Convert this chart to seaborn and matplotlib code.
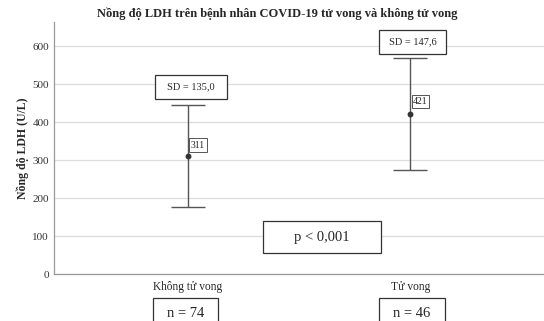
import matplotlib
matplotlib.use("Agg")
import matplotlib.pyplot as plt
from matplotlib.patches import Rectangle
import seaborn as sns
import pandas as pd

groups = ["Không tử vong", "Tử vong"]
means = [311, 421]
sds = [135.0, 147.6]
ns = [74, 46]
sd_labels = ["SD = 135,0", "SD = 147,6"]
p_label = "p < 0,001"
yticks = [0, 100, 200, 300, 400, 500, 600]

sns.set_theme(style="whitegrid")
plt.rcParams['font.family'] = ['Liberation Serif', 'DejaVu Serif']

df = pd.DataFrame({"group": groups, "mean": means, "sd": sds})

fig = plt.figure(figsize=(5.44, 3.21), dpi=100)
ax = fig.add_axes([0.099, 0.146, 0.901, 0.785])

ax.errorbar(x=[0, 1], y=df["mean"], yerr=df["sd"], fmt="none", ecolor="#555555",
            elinewidth=1.0, capsize=12, capthick=1.0, zorder=2)
sns.pointplot(data=df, x="group", y="mean", errorbar=None, color="#333333",
              markers="o", linestyles="none", ax=ax, markersize=2.2)

ax.set_xlim(-0.6, 1.6)
ax.set_ylim(0, 663)
ax.set_yticks(yticks)
ax.set_yticklabels([str(t) for t in yticks], fontsize=8, color="#333333")
ax.tick_params(axis="y", length=0, pad=3.5)
ax.tick_params(axis="x", length=0, pad=5, labelsize=8.3)
ax.grid(axis="y", color="#dddddd", linewidth=0.9)
ax.grid(axis="x", visible=False)
for s in ["top", "right"]:
    ax.spines[s].set_visible(False)
ax.spines["left"].set_color("#999999")
ax.spines["bottom"].set_color("#999999")
ax.spines["left"].set_linewidth(0.9)
ax.spines["bottom"].set_linewidth(0.9)
ax.set_xlabel("")
ax.set_ylabel("Nồng độ LDH (U/L)", fontsize=8.5, fontweight="bold", labelpad=2.5)
fig.text(0.51, 1 - 14 / 321, "Nồng độ LDH trên bệnh nhân COVID-19 tử vong và không tử vong",
         fontsize=9, fontweight="bold", ha="center", va="center")


def boxed(x0, x1, y0, y1, label, fs, lw=0.9, ec="#333333"):
    ax.add_patch(Rectangle((x0, y0), x1 - x0, y1 - y0, facecolor="white",
                           edgecolor=ec, linewidth=lw, clip_on=False, zorder=4))
    ax.text((x0 + x1) / 2, (y0 + y1) / 2, label, ha="center", va="center",
            fontsize=fs, zorder=5, clip_on=False)


# SD boxes
boxed(-0.144, 0.176, 461, 524, sd_labels[0], 7.5)
boxed(0.86, 1.16, 579, 642, sd_labels[1], 7.5)
# mean value labels
boxed(0.006, 0.087, 321, 358, str(means[0]), 7, lw=0.7, ec="#555555")
boxed(1.006, 1.083, 437, 471, str(means[1]), 7, lw=0.7, ec="#555555")
# p value box
boxed(0.337, 0.868, 55, 139, p_label, 10.5)
# n boxes
ax.add_patch(Rectangle((-0.155, -150), 0.292, 87, facecolor="white", edgecolor="#333333",
                       linewidth=0.9, clip_on=False, zorder=4))
ax.add_patch(Rectangle((0.859, -150), 0.297, 87, facecolor="white", edgecolor="#333333",
                       linewidth=0.9, clip_on=False, zorder=4))
ax.text(-0.009, -103, f"n = {ns[0]}", ha="center", va="center", fontsize=10.5, clip_on=False, zorder=5)
ax.text(1.007, -103, f"n = {ns[1]}", ha="center", va="center", fontsize=10.5, clip_on=False, zorder=5)

fig.savefig("out.png", dpi=100)
